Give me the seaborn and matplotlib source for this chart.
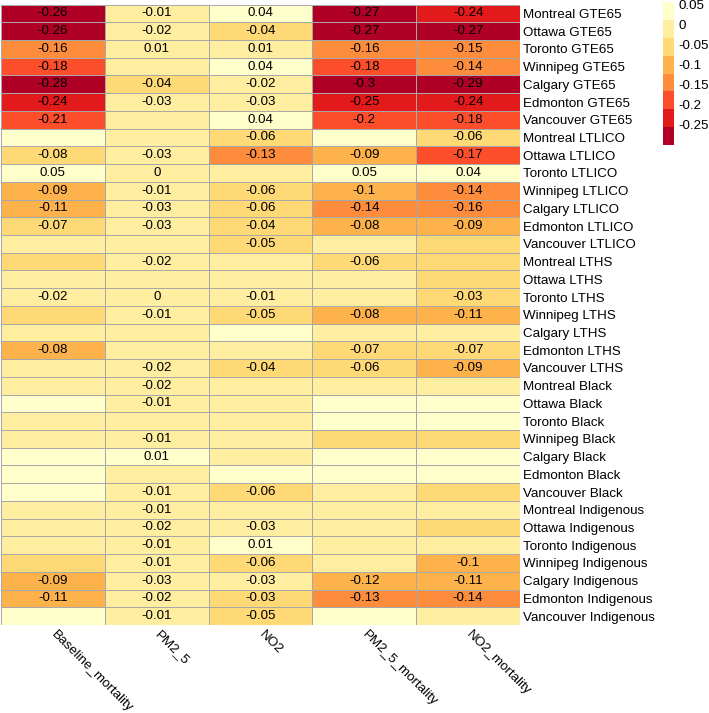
import numpy as np
import pandas as pd
import matplotlib
matplotlib.use("Agg")
import matplotlib.pyplot as plt
import seaborn as sns
from matplotlib.colors import ListedColormap

# ---------------- data ----------------
rows = [
    "Montreal GTE65", "Ottawa GTE65", "Toronto GTE65", "Winnipeg GTE65",
    "Calgary GTE65", "Edmonton GTE65", "Vancouver GTE65",
    "Montreal LTLICO", "Ottawa LTLICO", "Toronto LTLICO", "Winnipeg LTLICO",
    "Calgary LTLICO", "Edmonton LTLICO", "Vancouver LTLICO",
    "Montreal LTHS", "Ottawa LTHS", "Toronto LTHS", "Winnipeg LTHS",
    "Calgary LTHS", "Edmonton LTHS", "Vancouver LTHS",
    "Montreal Black", "Ottawa Black", "Toronto Black", "Winnipeg Black",
    "Calgary Black", "Edmonton Black", "Vancouver Black",
    "Montreal Indigenous", "Ottawa Indigenous", "Toronto Indigenous",
    "Winnipeg Indigenous", "Calgary Indigenous", "Edmonton Indigenous",
    "Vancouver Indigenous",
]
columns = ["Baseline_mortality", "PM2_5", "NO2", "PM2_5_mortality", "NO2_mortality"]

# cell values (colour)
baseline_mortality = [-0.26, -0.26, -0.16, -0.18, -0.28, -0.24, -0.21,
                      0.02, -0.077, 0.05, -0.09, -0.11, -0.07, -0.02,
                      -0.05, -0.01, -0.02, -0.05, -0.01, -0.082, -0.02,
                      -0.01, 0.02, -0.01, -0.02, 0.02, 0.02, 0.02,
                      -0.01, -0.01, -0.01, -0.04, -0.09, -0.11, 0.02]
pm2_5 = [-0.01, -0.02, 0.008, -0.01, -0.04, -0.03, -0.01,
         -0.01, -0.03, 0.0, -0.01, -0.03, -0.03, -0.01,
         -0.02, -0.01, 0.0, -0.01, -0.01, -0.01, -0.02,
         -0.02, -0.01, -0.01, -0.01, 0.012, -0.01, -0.01,
         -0.01, -0.02, -0.01, -0.01, -0.03, -0.02, -0.01]
no2 = [0.04, -0.04, 0.008, 0.04, -0.02, -0.03, 0.04,
       -0.06, -0.13, -0.01, -0.06, -0.06, -0.04, -0.05,
       -0.01, -0.01, -0.01, -0.05, 0.02, -0.01, -0.04,
       -0.01, -0.01, -0.01, -0.01, -0.01, 0.02, -0.06,
       -0.01, -0.03, 0.012, -0.06, -0.03, -0.034, -0.05]
pm2_5_mortality = [-0.27, -0.27, -0.16, -0.18, -0.30, -0.25, -0.20,
                   0.02, -0.09, 0.05, -0.10, -0.14, -0.082, -0.01,
                   -0.06, -0.01, -0.01, -0.082, -0.01, -0.07, -0.06,
                   -0.01, 0.02, 0.02, -0.05, 0.02, 0.02, -0.01,
                   -0.01, -0.01, -0.01, -0.01, -0.12, -0.13, 0.02]
no2_mortality = [-0.24, -0.27, -0.15, -0.14, -0.29, -0.24, -0.18,
                 -0.06, -0.17, 0.04, -0.14, -0.16, -0.09, -0.04,
                 -0.04, -0.04, -0.034, -0.11, -0.01, -0.07, -0.09,
                 -0.01, 0.02, 0.02, -0.05, 0.02, 0.02, -0.05,
                 -0.01, -0.04, -0.01, -0.10, -0.11, -0.14, -0.01]

# printed labels ("" = not shown)
baseline_labels = ["-0.26", "-0.26", "-0.16", "-0.18", "-0.28", "-0.24", "-0.21",
                   "", "-0.08", "0.05", "-0.09", "-0.11", "-0.07", "",
                   "", "", "-0.02", "", "", "-0.08", "",
                   "", "", "", "", "", "", "",
                   "", "", "", "", "-0.09", "-0.11", ""]
pm2_5_labels = ["-0.01", "-0.02", "0.01", "", "-0.04", "-0.03", "",
                "", "-0.03", "0", "-0.01", "-0.03", "-0.03", "",
                "-0.02", "", "0", "-0.01", "", "", "-0.02",
                "-0.02", "-0.01", "", "-0.01", "0.01", "", "-0.01",
                "-0.01", "-0.02", "-0.01", "-0.01", "-0.03", "-0.02", "-0.01"]
no2_labels = ["0.04", "-0.04", "0.01", "0.04", "-0.02", "-0.03", "0.04",
              "-0.06", "-0.13", "", "-0.06", "-0.06", "-0.04", "-0.05",
              "", "", "-0.01", "-0.05", "", "", "-0.04",
              "", "", "", "", "", "", "-0.06",
              "", "-0.03", "0.01", "-0.06", "-0.03", "-0.03", "-0.05"]
pm2_5_mortality_labels = ["-0.27", "-0.27", "-0.16", "-0.18", "-0.3", "-0.25", "-0.2",
                          "", "-0.09", "0.05", "-0.1", "-0.14", "-0.08", "",
                          "-0.06", "", "", "-0.08", "", "-0.07", "-0.06",
                          "", "", "", "", "", "", "",
                          "", "", "", "", "-0.12", "-0.13", ""]
no2_mortality_labels = ["-0.24", "-0.27", "-0.15", "-0.14", "-0.29", "-0.24", "-0.18",
                        "-0.06", "-0.17", "0.04", "-0.14", "-0.16", "-0.09", "",
                        "", "", "-0.03", "-0.11", "", "-0.07", "-0.09",
                        "", "", "", "", "", "", "",
                        "", "", "", "-0.1", "-0.11", "-0.14", ""]

cbar_ticks = [0.05, 0, -0.05, -0.1, -0.15, -0.2, -0.25]
cbar_ticklabels = ["0.05", "0", "-0.05", "-0.1", "-0.15", "-0.2", "-0.25"]

# ---------------- build tables ----------------
df = pd.DataFrame({
    columns[0]: baseline_mortality,
    columns[1]: pm2_5,
    columns[2]: no2,
    columns[3]: pm2_5_mortality,
    columns[4]: no2_mortality,
}, index=rows)
annot = np.array([baseline_labels, pm2_5_labels, no2_labels,
                  pm2_5_mortality_labels, no2_mortality_labels]).T

# ---------------- style ----------------
sns.set_theme(style="white")
plt.rcParams["font.family"] = ["Liberation Sans", "DejaVu Sans"]
plt.rcParams["axes.unicode_minus"] = False

colors = ["#B10026", "#E31A1C", "#FC4E2A", "#FD8D3C",
          "#FEB24C", "#FED976", "#FFEDA0", "#FFFFCC"]
cmap = ListedColormap(colors)

W, H = 709, 713
fig = plt.figure(figsize=(W / 100, H / 100), dpi=100)
ax = fig.add_axes([1 / W, (H - 625) / H, 519 / W, (625 - 4.5) / H])
cax = fig.add_axes([663 / W, (H - 145) / H, 11 / W, 143 / H])

sns.heatmap(df, ax=ax, cbar_ax=cax, cmap=cmap, vmin=-0.3, vmax=0.055,
            annot=annot, fmt="", annot_kws={"size": 9.6, "color": "black"},
            linewidths=0.7, linecolor="#A8A8A8")

ax.yaxis.tick_right()
ax.set_yticklabels(rows, rotation=0, fontsize=9.6, color="black")
ax.set_xticklabels(columns, rotation=-45, ha="left", va="center",
                   rotation_mode="anchor", fontsize=9.6, color="black")
ax.tick_params(axis="y", length=0, pad=2)
ax.tick_params(axis="x", length=0, pad=5.5)
ax.set_xlabel("")
ax.set_ylabel("")

cb = ax.collections[0].colorbar
cb.set_ticks(cbar_ticks)
cb.set_ticklabels(cbar_ticklabels)
cb.outline.set_visible(False)
cax.tick_params(length=0, labelsize=9.6, pad=3, colors="black")

fig.savefig("out.png", dpi=100)
